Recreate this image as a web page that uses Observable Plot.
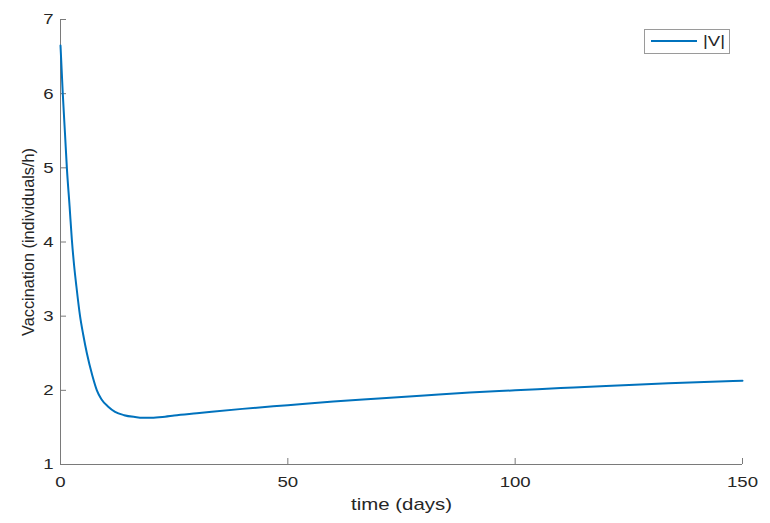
<!DOCTYPE html>
<html><head><meta charset="utf-8">
<script src="https://cdn.jsdelivr.net/npm/d3@7"></script>
<script src="https://cdn.jsdelivr.net/npm/@observablehq/plot@0.6"></script>
<style>
body{margin:0;background:#fff;}
#wrap{position:relative;width:770px;height:523px;font-family:"Liberation Sans",Arial,sans-serif;}
#legend{position:absolute;left:644px;top:29px;width:86px;height:25px;border:1px solid #9a9a9a;background:#fff;box-sizing:border-box;}
#legend .sw{position:absolute;left:6px;top:10px;width:46px;height:2px;background:#0072BD;}
#legend .lb{position:absolute;left:58px;top:2px;font-size:15.5px;line-height:18px;color:#262626;transform:scaleX(1.2);transform-origin:left center;}
</style></head><body><div id="wrap"></div>
<script>
const time = [0, 0.5, 1.0, 1.4, 2.0, 2.5, 3.0, 3.5, 4.3, 5.0, 5.8, 7.0, 8.0, 9.0, 10.5, 12, 14, 16.4, 18, 20, 23, 25, 30, 40, 50, 60, 70, 80, 90, 100, 110, 120, 130, 140, 150];
const vacc = [6.65, 6.0, 5.45, 5.0, 4.48, 4.03, 3.68, 3.4, 3.0, 2.75, 2.5, 2.2, 2.0, 1.88, 1.78, 1.71, 1.665, 1.64, 1.63, 1.63, 1.645, 1.66, 1.69, 1.75, 1.80, 1.85, 1.89, 1.93, 1.97, 2.0, 2.03, 2.06, 2.085, 2.11, 2.13];
const xTicks = [0, 50, 100, 150];
const yTicks = [1, 2, 3, 4, 5, 6, 7];
const seriesName = "|V|";
const xLabel = "time (days)";
const yLabel = "Vaccination (individuals/h)";

const data = time.map((t, i) => ({t, v: vacc[i]}));
const axisColor = "#7a7a7a";

const chart = Plot.plot({
  width: 770, height: 523,
  marginLeft: 60, marginRight: 28, marginTop: 19, marginBottom: 59,
  style: {fontFamily: "Liberation Sans, Arial, sans-serif", fontSize: "15.5px", color: "#262626", background: "#fff"},
  x: {domain: [0, 150]},
  y: {domain: [1, 7]},
  marks: [
    Plot.ruleX([0], {stroke: axisColor}),
    Plot.ruleY([1], {stroke: axisColor}),
    Plot.ruleX(xTicks, {x: d => d, y1: 1, y2: 1, insetTop: -6, stroke: axisColor}),
    Plot.ruleY(yTicks, {y: d => d, x1: 0, x2: 0, insetRight: -6, stroke: axisColor}),
    Plot.axisX(xTicks, {tickSize: 0, tickPadding: 11, tickFormat: "d", label: xLabel, labelAnchor: "center", labelOffset: 45, labelArrow: "none"}),
    Plot.axisY(yTicks, {tickSize: 0, tickPadding: 7, tickFormat: "d", label: yLabel, labelAnchor: "center", labelOffset: 38, labelArrow: "none"}),
    Plot.line(data, {x: "t", y: "v", stroke: "#0072BD", strokeWidth: 2, curve: "monotone-x"})
  ]
});
document.getElementById("wrap").appendChild(chart);

// font sizes and horizontal stretch of the original rendering
const xl = chart.querySelector('[aria-label="x-axis label"]');
if (xl) xl.setAttribute("font-size", "17px");
const yl = chart.querySelector('[aria-label="y-axis label"]');
if (yl) yl.setAttribute("font-size", "16.3px");
chart.querySelectorAll('[aria-label="x-axis tick label"] text, [aria-label="y-axis tick label"] text, [aria-label="x-axis label"] text').forEach(t => {
  const len = t.getComputedTextLength();
  t.setAttribute("textLength", (len * 1.2).toFixed(2));
  t.setAttribute("lengthAdjust", "spacingAndGlyphs");
});

const legend = document.createElement("div");
legend.id = "legend";
legend.innerHTML = '<div class="sw"></div><div class="lb"></div>';
legend.querySelector(".lb").textContent = seriesName;
document.getElementById("wrap").appendChild(legend);
</script>
</body></html>
